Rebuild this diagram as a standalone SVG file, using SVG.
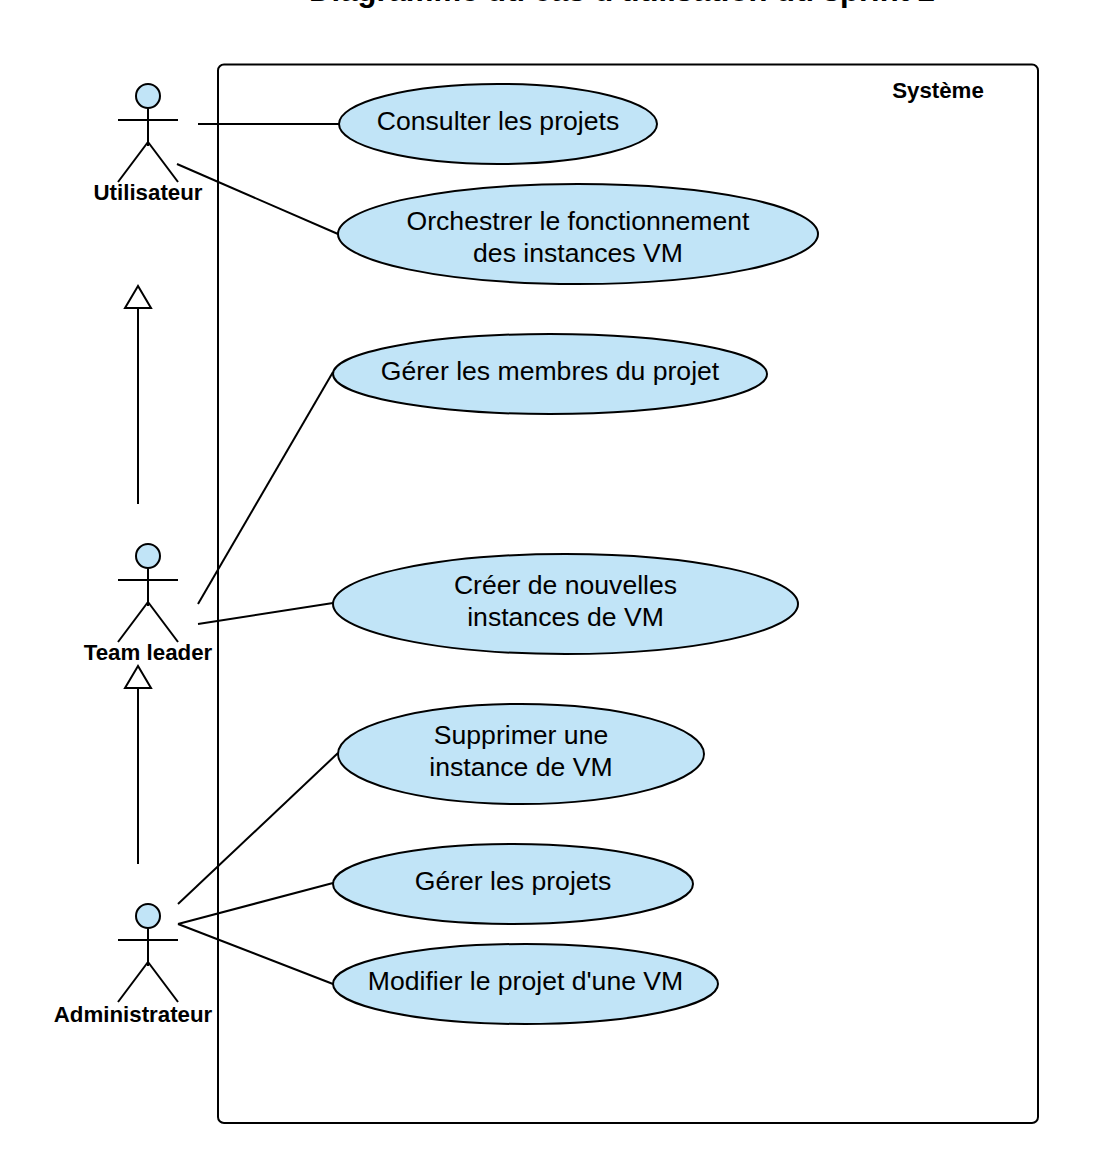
<svg xmlns="http://www.w3.org/2000/svg" width="1095" height="1161" viewBox="0 0 1095 1161">
<style>
text{font-family:"Liberation Sans",Arial,sans-serif;fill:#000;text-anchor:middle}
.uc{font-size:26.6px}
.b{font-size:22.3px;font-weight:bold}
.t{font-size:31.1px;font-weight:bold}
ellipse,circle{fill:#c1e4f7;stroke:#000;stroke-width:2}
line,.s{stroke:#000;stroke-width:2;fill:none}
.tri{fill:#fff;stroke:#000;stroke-width:2}
</style>
<defs>
<g id="actor">
<circle cx="0" cy="12" r="12"/>
<line x1="0" y1="24" x2="0" y2="62"/>
<line x1="-30" y1="36" x2="30" y2="36"/>
<line x1="-30" y1="98" x2="0" y2="58"/>
<line x1="30" y1="98" x2="0" y2="58"/>
</g>
</defs>
<rect width="1095" height="1161" fill="#fff"/>
<text id="title" class="t" x="622" y="1">Diagramme du cas d'utilisation du sprint 2</text>
<g id="system"><rect class="s" x="218" y="64.500" width="820" height="1058.500" rx="6"/><text class="b" x="938" y="98">Système</text></g>
<g id="connectors">
<line x1="198" y1="124" x2="339" y2="124"/>
<line x1="177" y1="164" x2="338" y2="234"/>
<line x1="198" y1="604" x2="333" y2="372"/>
<line x1="198" y1="624" x2="333" y2="603"/>
<line x1="178" y1="904" x2="338" y2="753"/>
<line x1="178" y1="924" x2="333" y2="883"/>
<line x1="178" y1="924" x2="333" y2="984"/>
<line x1="138" y1="504" x2="138" y2="308"/>
<polygon class="tri" points="138,286 125,308 151,308"/>
<line x1="138" y1="864" x2="138" y2="688"/>
<polygon class="tri" points="138,666 125,688 151,688"/>
</g>
<g id="utilisateur"><use href="#actor" x="148" y="84"/><text class="b" x="148" y="200">Utilisateur</text></g>
<g id="team-leader"><use href="#actor" x="148" y="544"/><text class="b" x="148" y="660">Team leader</text></g>
<g id="administrateur"><use href="#actor" x="148" y="904"/><text class="b" x="133" y="1022">Administrateur</text></g>
<g id="uc1"><ellipse cx="498" cy="124" rx="159" ry="40"/><text class="uc" x="498" y="130">Consulter les projets</text></g>
<g id="uc2"><ellipse cx="578" cy="234" rx="240" ry="50"/><text class="uc" x="578" y="230">Orchestrer le fonctionnement</text><text class="uc" x="578" y="262">des instances VM</text></g>
<g id="uc3"><ellipse cx="550" cy="374" rx="217" ry="40"/><text class="uc" x="550" y="380">Gérer les membres du projet</text></g>
<g id="uc4"><ellipse cx="565.500" cy="604" rx="232.500" ry="50"/><text class="uc" x="565.500" y="594">Créer de nouvelles</text><text class="uc" x="565.500" y="626">instances de VM</text></g>
<g id="uc5"><ellipse cx="521" cy="754" rx="183" ry="50"/><text class="uc" x="521" y="744">Supprimer une</text><text class="uc" x="521" y="776">instance de VM</text></g>
<g id="uc6"><ellipse cx="513" cy="884" rx="180" ry="40"/><text class="uc" x="513" y="890">Gérer les projets</text></g>
<g id="uc7"><ellipse cx="525.500" cy="984" rx="192.500" ry="40"/><text class="uc" x="525.500" y="990">Modifier le projet d'une VM</text></g>
</svg>
